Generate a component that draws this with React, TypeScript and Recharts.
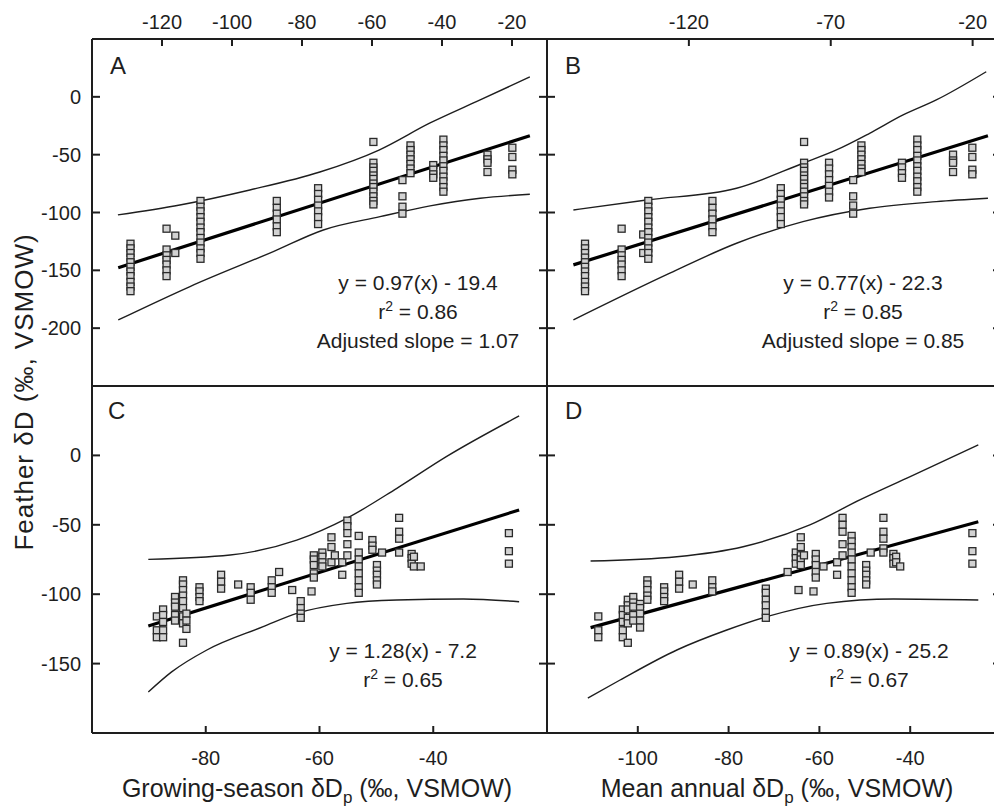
import React from 'react';
import { ComposedChart, Scatter, Line, XAxis, YAxis } from 'recharts';

type Col = [number, number[]];
type Pt = [number, number];

const W = 1060;
const H = 807;
const FONT = '"Liberation Sans", Arial, Helvetica, sans-serif';
const INK = '#1e1e1e';

// tick labels
const topTicksA = [-120, -100, -80, -60, -40, -20];
const topTicksB = [-120, -70, -20];
const bottomTicksC = [-80, -60, -40];
const bottomTicksD = [-100, -80, -60, -40];
const yTicksTop = [0, -50, -100, -150, -200];
const yTicksBottom = [0, -50, -100, -150];

// panel A: columns of feather values at each site x
const colsA: Col[] = [
  [-129, [-127, -131, -135, -139, -143, -147, -151, -155, -160, -164, -168]],
  [-118.7, [-114, -132, -137, -141, -145, -150, -155]],
  [-116.2, [-120, -135]],
  [-109, [-90, -95, -99, -104, -108, -113, -117, -122, -126, -131, -135, -140]],
  [-87.2, [-90, -96, -101, -106, -112, -117]],
  [-75.4, [-79, -84, -89, -94, -99, -104, -110]],
  [-59.6, [-39, -57, -61, -64, -68, -71, -75, -78, -82, -86, -90, -93]],
  [-51.3, [-72, -86, -95, -101]],
  [-49, [-42, -46, -50, -54, -58, -62, -66]],
  [-42.5, [-59, -63, -67, -70]],
  [-39.6, [-37, -42, -46, -51, -55, -60, -64, -69, -73, -78, -82]],
  [-27, [-50, -54, -57, -65]],
  [-19.9, [-44, -52, -63, -67]],
];
const regA: Pt[] = [[-132.5, -147.7], [-14.9, -33.6]];
const upperA: Pt[] = [[-132.6, -102.1], [-114.9, -93.5], [-94.9, -80.5], [-74.9, -65], [-58, -46], [-43.4, -22.6], [-29.1, -2.7], [-14.9, 17.2]];
const lowerA: Pt[] = [[-132.5, -192.9], [-112, -164], [-88.2, -133.8], [-73.9, -115.1], [-57.7, -103.6], [-43.4, -94.3], [-29.1, -87.7], [-14.9, -84.2]];

// panel B
const colsB: Col[] = [
  [-156.6, [-127, -131, -135, -139, -143, -147, -151, -155, -160, -164, -168]],
  [-143.7, [-114, -132, -137, -141, -145, -150, -155]],
  [-136.1, [-119, -135]],
  [-134.3, [-90, -95, -99, -104, -108, -113, -117, -122, -126, -131, -135, -140]],
  [-111.7, [-90, -96, -101, -106, -112, -117]],
  [-87.6, [-79, -84, -89, -94, -99, -104, -110]],
  [-79.4, [-39, -57, -61, -64, -68, -71, -75, -78, -82, -86, -90, -93]],
  [-70.6, [-57, -62, -67, -72, -77, -82, -87]],
  [-62.1, [-72, -86, -94, -101]],
  [-59.2, [-42, -46, -50, -54, -58, -62, -65]],
  [-44.9, [-57, -61, -66, -70]],
  [-39.5, [-37, -42, -46, -51, -55, -60, -64, -69, -73, -78, -82]],
  [-26.9, [-50, -55, -57, -65]],
  [-20.1, [-44, -52, -63, -67]],
];
const regB: Pt[] = [[-160.7, -145.3], [-14.6, -33.6]];
const upperB: Pt[] = [[-160.7, -97.8], [-134.9, -89.2], [-103.2, -79], [-79.8, -57.4], [-68, -45.9], [-56.3, -31.5], [-44.5, -15.7], [-32.8, -2.7], [-15.2, 21.7]];
const lowerB: Pt[] = [[-160.7, -192.9], [-126.7, -152.5], [-103.2, -126.6], [-79.8, -107.9], [-56.3, -96.3], [-32.8, -90.6], [-14.6, -87.7]];

// panel C
const colsC: Col[] = [
  [-88.6, [-116, -126, -131]],
  [-87.5, [-111, -115, -120, -126, -131]],
  [-85.4, [-102, -106, -109, -115, -119]],
  [-84, [-90, -93, -97, -101, -105, -110, -116, -121, -135]],
  [-83.4, [-114, -119, -125]],
  [-81.1, [-95, -98, -102, -105]],
  [-77.3, [-86, -91, -96]],
  [-74.3, [-93]],
  [-72.1, [-95, -99, -104]],
  [-68.4, [-90, -95, -99]],
  [-67.1, [-84]],
  [-64.8, [-97]],
  [-63.3, [-105, -110, -114, -117]],
  [-61.4, [-98]],
  [-61, [-72, -75, -79, -85, -88]],
  [-59.5, [-70, -73, -77, -80]],
  [-57.9, [-59, -66, -77]],
  [-57.3, [-72]],
  [-56, [-77, -86]],
  [-55.1, [-47, -51, -56, -64, -72]],
  [-53.1, [-58, -70, -75, -80, -85, -90, -95, -99]],
  [-50.7, [-61, -65, -68]],
  [-49.9, [-79, -83, -86, -90, -93]],
  [-49, [-70]],
  [-46, [-45, -55, -60, -70]],
  [-43.8, [-71, -74, -78]],
  [-43.4, [-73, -80]],
  [-42.2, [-80]],
  [-26.7, [-56, -69, -78]],
];
const regC: Pt[] = [[-90.1, -122.9], [-24.9, -39.3]];
const upperC: Pt[] = [[-90.1, -74.9], [-75.7, -71.8], [-64, -61], [-55.2, -45.3], [-46.4, -23.7], [-37.7, -0.9], [-24.9, 28.4]];
const lowerC: Pt[] = [[-90.1, -170.5], [-86, -156], [-79.8, -140.2], [-69.9, -123.4], [-64, -113.8], [-55.2, -106.6], [-46.4, -104.2], [-34.7, -103.5], [-24.9, -105.4]];

// panel D
const colsD: Col[] = [
  [-108.7, [-116, -126, -131]],
  [-103.3, [-111, -115, -120, -126, -131]],
  [-102.2, [-104, -108, -111, -117, -121, -135]],
  [-101, [-102, -106, -109, -115, -119]],
  [-99.5, [-107, -110, -114, -119, -124]],
  [-97.9, [-90, -93, -97, -101, -104]],
  [-94.2, [-95, -98, -102, -105]],
  [-90.9, [-86, -91, -96]],
  [-87.9, [-93]],
  [-83.6, [-90, -95, -98]],
  [-71.8, [-96, -99, -104, -108, -113, -117]],
  [-67, [-84]],
  [-65.2, [-70, -74, -78]],
  [-64.6, [-97]],
  [-64.1, [-59, -66, -72, -75, -79]],
  [-63.4, [-72]],
  [-61.3, [-98]],
  [-60.8, [-71, -75, -79, -84, -88]],
  [-59.1, [-80]],
  [-56.1, [-77, -86]],
  [-54.9, [-45, -50, -55, -64, -72]],
  [-52.9, [-58, -62, -66, -70, -75, -80, -85, -90, -95, -99]],
  [-49.7, [-79, -83, -86, -90, -93]],
  [-48.7, [-70]],
  [-45.9, [-45, -55, -60, -67, -70]],
  [-43.7, [-71, -74, -78]],
  [-43.1, [-73, -77]],
  [-42.2, [-80]],
  [-26.3, [-56, -69, -78]],
];
const regD: Pt[] = [[-110.4, -124.1], [-25, -47.8]];
const upperD: Pt[] = [[-110.4, -76.1], [-91.4, -73], [-76.8, -65.8], [-62.1, -50.1], [-51.1, -32.1], [-40, -15.3], [-25, 7.5]];
const lowerD: Pt[] = [[-111, -174.8], [-104, -162], [-91.4, -140.2], [-80.4, -125.8], [-71.6, -116.2], [-58.4, -106.6], [-43.7, -103.5], [-25, -104.2]];

const toPoints = (cols: Col[]) => cols.flatMap(([x, ys]) => ys.map((y) => ({ x, y })));
const toLine = (pts: Pt[]) => pts.map(([x, y]) => ({ x, y }));

const Square = (props: any) => {
  const { cx, cy } = props;
  if (cx == null || cy == null) return <g />;
  return <rect x={cx - 3.5} y={cy - 3.5} width={7} height={7} fill="#d2d2d2" stroke="#2a2a2a" strokeWidth={1.3} />;
};

const tickText = { fontSize: 20, fontFamily: FONT, fill: INK };

const leftTick = (labels: boolean) => (props: any) => (
  <g>
    <line x1={props.x} x2={props.x + 8} y1={props.y} y2={props.y} stroke={INK} strokeWidth={2} />
    {labels && (
      <text x={props.x - 11} y={props.y + 7} textAnchor="end" {...tickText}>
        {props.payload.value}
      </text>
    )}
  </g>
);

const rightTick = (props: any) => (
  <line x1={props.x} x2={props.x - 8} y1={props.y} y2={props.y} stroke={INK} strokeWidth={2} />
);

const topTick = (props: any) => (
  <g>
    <line x1={props.x} x2={props.x} y1={props.y} y2={props.y + 7} stroke={INK} strokeWidth={2} />
    <text x={props.x} y={props.y - 10} textAnchor="middle" {...tickText}>
      {props.payload.value}
    </text>
  </g>
);

const bottomTick = (props: any) => (
  <g>
    <line x1={props.x} x2={props.x} y1={props.y} y2={props.y - 7} stroke={INK} strokeWidth={2} />
    <text x={props.x} y={props.y + 32} textAnchor="middle" {...tickText}>
      {props.payload.value}
    </text>
  </g>
);

interface Box { left: number; top: number; right: number; bottom: number }

interface PanelProps {
  box: Box;
  xDomain: [number, number];
  yDomain: [number, number];
  xTicks: number[];
  xSide: 'top' | 'bottom';
  yTicks: number[];
  yLabels: boolean;
  cols: Col[];
  reg: Pt[];
  upper: Pt[];
  lower: Pt[];
}

const AXW = 40;
const AXH = 20;
const frame = { stroke: INK, strokeWidth: 2 };

function Panel(p: PanelProps) {
  const margin = {
    left: p.box.left - AXW,
    right: W - p.box.right - AXW,
    top: p.box.top - AXH,
    bottom: H - p.box.bottom - AXH,
  };
  const xid = p.xSide === 'top' ? 't' : 'b';
  return (
    <div style={{ position: 'absolute', left: 0, top: 0 }}>
      <ComposedChart width={W} height={H} margin={margin}>
        <XAxis
          xAxisId="t" orientation="top" type="number" dataKey="x" domain={p.xDomain} allowDataOverflow
          height={AXH} axisLine={frame} tickLine={false} tickSize={0} tickMargin={0} interval={0}
          ticks={p.xTicks} tick={p.xSide === 'top' ? topTick : false}
        />
        <XAxis
          xAxisId="b" orientation="bottom" type="number" dataKey="x" domain={p.xDomain} allowDataOverflow
          height={AXH} axisLine={frame} tickLine={false} tickSize={0} tickMargin={0} interval={0}
          ticks={p.xTicks} tick={p.xSide === 'bottom' ? bottomTick : false}
        />
        <YAxis
          yAxisId="l" orientation="left" type="number" dataKey="y" domain={p.yDomain} allowDataOverflow
          width={AXW} axisLine={frame} tickLine={false} tickSize={0} tickMargin={0} interval={0}
          ticks={p.yTicks} tick={leftTick(p.yLabels)}
        />
        <YAxis
          yAxisId="r" orientation="right" type="number" dataKey="y" domain={p.yDomain} allowDataOverflow
          width={AXW} axisLine={frame} tickLine={false} tickSize={0} tickMargin={0} interval={0}
          ticks={p.yTicks} tick={rightTick}
        />
        <Line xAxisId={xid} yAxisId="l" data={toLine(p.upper)} dataKey="y" type="monotone"
          stroke={INK} strokeWidth={1.4} dot={false} activeDot={false} isAnimationActive={false} />
        <Line xAxisId={xid} yAxisId="l" data={toLine(p.lower)} dataKey="y" type="monotone"
          stroke={INK} strokeWidth={1.4} dot={false} activeDot={false} isAnimationActive={false} />
        <Scatter xAxisId={xid} yAxisId="l" data={toPoints(p.cols)} dataKey="y" shape={Square} isAnimationActive={false} />
        <Line xAxisId={xid} yAxisId="l" data={toLine(p.reg)} dataKey="y" type="linear"
          stroke="#000" strokeWidth={3.2} dot={false} activeDot={false} isAnimationActive={false} />
      </ComposedChart>
    </div>
  );
}

const txt = { fontFamily: FONT, fill: INK };

const Eq = ({ x, y, eq, r2, adj }: { x: number; y: number; eq: string; r2: string; adj?: string }) => (
  <g fontSize={21} textAnchor="middle" {...txt}>
    <text x={x} y={y}>{eq}</text>
    <text x={x} y={y + 29}>
      r<tspan dy={-8} fontSize={14}>2</tspan><tspan dy={8}> = {r2}</tspan>
    </text>
    {adj && <text x={x} y={y + 58}>Adjusted slope = {adj}</text>}
  </g>
);

export default function App() {
  return (
    <div style={{ position: 'fixed', left: 0, top: 0, width: 994, height: 807, overflow: 'hidden', background: '#fff' }}>
      <Panel box={{ left: 92, top: 39, right: 547, bottom: 386 }} xDomain={[-140, -10]} yDomain={[-250, 50]}
        xTicks={topTicksA} xSide="top" yTicks={yTicksTop} yLabels cols={colsA} reg={regA} upper={upperA} lower={lowerA} />
      <Panel box={{ left: 547, top: 39, right: 1001, bottom: 386 }} xDomain={[-170, -10]} yDomain={[-250, 50]}
        xTicks={topTicksB} xSide="top" yTicks={yTicksTop} yLabels={false} cols={colsB} reg={regB} upper={upperB} lower={lowerB} />
      <Panel box={{ left: 92, top: 386, right: 547, bottom: 733 }} xDomain={[-100, -20]} yDomain={[-200, 50]}
        xTicks={bottomTicksC} xSide="bottom" yTicks={yTicksBottom} yLabels cols={colsC} reg={regC} upper={upperC} lower={lowerC} />
      <Panel box={{ left: 547, top: 386, right: 1001, bottom: 733 }} xDomain={[-120, -20]} yDomain={[-200, 50]}
        xTicks={bottomTicksD} xSide="bottom" yTicks={yTicksBottom} yLabels={false} cols={colsD} reg={regD} upper={upperD} lower={lowerD} />
      <svg width={994} height={807} style={{ position: 'absolute', left: 0, top: 0, pointerEvents: 'none' }}>
        <g fontSize={24} {...txt}>
          <text x={110} y={74}>A</text>
          <text x={565} y={74}>B</text>
          <text x={108} y={419}>C</text>
          <text x={565} y={419}>D</text>
        </g>
        <Eq x={418} y={290} eq="y = 0.97(x) - 19.4" r2="0.86" adj="1.07" />
        <Eq x={863} y={290} eq="y = 0.77(x) - 22.3" r2="0.85" adj="0.85" />
        <Eq x={403} y={658} eq="y = 1.28(x) - 7.2" r2="0.65" />
        <Eq x={869} y={658} eq="y = 0.89(x) - 25.2" r2="0.67" />
        <g fontSize={25} textAnchor="middle" {...txt}>
          <text x={317} y={797}>
            Growing-season δD<tspan dy={6} fontSize={17}>p</tspan><tspan dy={-6}> (‰, VSMOW)</tspan>
          </text>
          <text x={777} y={797}>
            Mean annual δD<tspan dy={6} fontSize={17}>p</tspan><tspan dy={-6}> (‰, VSMOW)</tspan>
          </text>
          <text x={33} y={392} fontSize={26} letterSpacing={1} transform="rotate(-90 33 392)">Feather δD (‰, VSMOW)</text>
        </g>
      </svg>
    </div>
  );
}
